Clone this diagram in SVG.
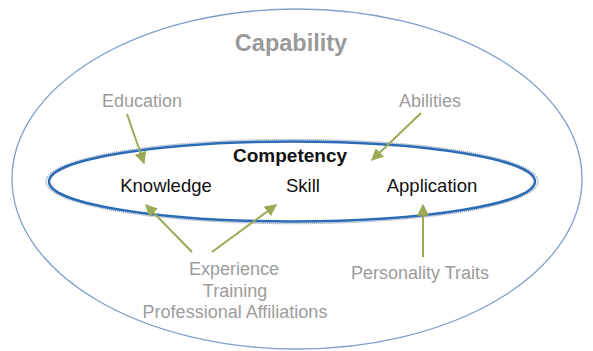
<svg xmlns="http://www.w3.org/2000/svg" width="593" height="351" viewBox="0 0 593 351">
<style>
text{font-family:"Liberation Sans",Arial,sans-serif;text-anchor:middle}
.grey{fill:#9c9c9c;font-size:18px}
.dark{fill:#111;font-size:18.5px}
.arr{stroke:#9daa55;stroke-width:2;fill:none;marker-end:url(#ah)}
</style>
<defs>
<marker id="ah" viewBox="0 0 10 10" refX="9" refY="5" markerWidth="6" markerHeight="6" markerUnits="strokeWidth" orient="auto">
<path d="M0,0 L10,5 L0,10 z" fill="#9daa55"/>
</marker>
</defs>
<rect width="593" height="351" fill="#fff"/>
<g id="capability">
<ellipse cx="297" cy="179" rx="285" ry="170" fill="none" stroke="#7f9fca" stroke-width="1.3"/>
<text x="291" y="51" style="font-size:23.5px;font-weight:bold;fill:#9a9a9a">Capability</text>
</g>
<g id="competency">
<ellipse cx="292" cy="181.5" rx="246" ry="42" fill="none" stroke="#8a9bb8" stroke-width="1.5" stroke-dasharray="1 1"/>
<ellipse cx="292" cy="181.5" rx="243" ry="40" fill="none" stroke="#2c6cb5" stroke-width="2.5"/>
<text x="290" y="162" style="font-size:19px;font-weight:bold;fill:#111">Competency</text>
</g>
<g id="knowledge"><text class="dark" x="166" y="192">Knowledge</text></g>
<g id="skill"><text class="dark" x="303" y="192">Skill</text></g>
<g id="application"><text class="dark" x="432" y="192">Application</text></g>
<g id="education"><text class="grey" x="142" y="107">Education</text></g>
<g id="abilities"><text class="grey" x="430" y="107">Abilities</text></g>
<g id="experience">
<text class="grey" x="234" y="275">Experience</text>
<text class="grey" x="235" y="297">Training</text>
<text class="grey" x="235" y="318">Professional Affiliations</text>
</g>
<g id="personality"><text class="grey" x="420" y="279">Personality Traits</text></g>
<g id="connectors">
<line class="arr" x1="127" y1="114" x2="144" y2="163"/>
<line class="arr" x1="421" y1="113" x2="372" y2="160"/>
<line class="arr" x1="192" y1="252" x2="146" y2="205"/>
<line class="arr" x1="212" y1="252" x2="276" y2="205"/>
<line class="arr" x1="423" y1="257" x2="423" y2="205"/>
</g>
</svg>
